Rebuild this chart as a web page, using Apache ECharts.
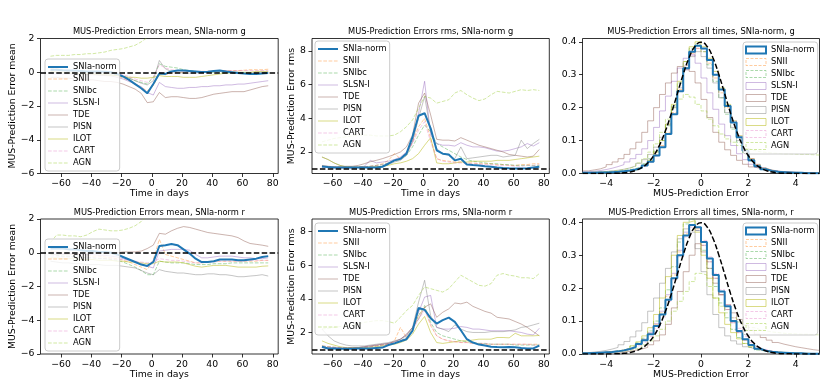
<!DOCTYPE html>
<html>
<head>
<meta charset="utf-8">
<title>MUS prediction errors</title>
<script src="https://cdn.jsdelivr.net/npm/echarts@6/dist/echarts.min.js"></script>
<style>html,body{margin:0;padding:0;background:#fff;}</style>
</head>
<body>
<div id="main" style="width:830px;height:391px;"></div>
<script>
// classes in legend order
var classes = ['SNIa-norm', 'SNII', 'SNIbc', 'SLSN-I', 'TDE', 'PISN', 'ILOT', 'CART', 'AGN'];

// time grid (days) shared by the four time panels
var days = [-67,-63,-59,-55,-51,-47,-43,-39,-35,-31,-27,-23,-19,-15,-11,-7,-3,1,5,9,13,17,21,25,29,33,37,41,45,49,53,57,61,65,69,73,77];

// mean error, g band
var gMeanSNIa  = [0.15,0.15,0.12,0.1,0.1,0.08,0.05,0.05,0.05,0.03,0.0,-0.1,-0.25,-0.45,-0.7,-0.95,-1.25,-0.7,-0.07,-0.1,0.05,0.1,0.1,0.08,0.05,0.02,0.03,0.08,0.1,0.05,0.0,-0.05,-0.08,-0.1,-0.1,-0.08,-0.05];
var gMeanSNII  = [0.2,0.2,0.15,0.1,0.1,0.05,0.05,0.0,0.0,-0.05,-0.1,-0.2,-0.35,-0.5,-0.7,-0.9,-1.1,-0.8,-0.1,-0.15,-0.05,0.0,0.0,0.05,0.05,0.05,0.05,0.1,0.1,0.1,0.1,0.1,0.12,0.15,0.15,0.15,0.18];
var gMeanSNIbc = [0.1,0.1,0.1,0.05,0.05,0.05,0.0,0.0,-0.05,-0.05,-0.1,-0.15,-0.25,-0.35,-0.5,-0.6,-0.7,-0.3,0.5,0.35,0.3,0.25,0.15,0.1,0.05,0.0,0.0,0.0,0.0,-0.05,-0.05,-0.05,-0.05,-0.05,-0.05,-0.05,-0.05];
var gMeanSLSN  = [-0.1,-0.1,-0.1,-0.1,-0.12,-0.12,-0.15,-0.15,-0.18,-0.2,-0.22,-0.3,-0.4,-0.55,-0.7,-0.85,-1.2,-1.35,-0.6,-0.85,-0.9,-0.95,-0.95,-0.9,-0.9,-0.85,-0.85,-0.8,-0.8,-0.75,-0.75,-0.7,-0.7,-0.65,-0.6,-0.55,-0.5];
var gMeanTDE   = [-0.3,-0.3,-0.35,-0.35,-0.4,-0.4,-0.45,-0.45,-0.5,-0.55,-0.55,-0.6,-0.7,-0.85,-1.0,-1.25,-1.8,-1.75,-1.2,-1.5,-1.45,-1.45,-1.5,-1.55,-1.55,-1.5,-1.4,-1.3,-1.25,-1.2,-1.15,-1.15,-1.15,-1.05,-0.95,-0.85,-0.8];
var gMeanPISN  = [0.0,0.0,-0.05,-0.05,-0.05,-0.1,-0.1,-0.1,-0.1,-0.15,-0.15,-0.2,-0.25,-0.35,-0.5,-0.65,-0.75,-0.5,0.7,0.2,0.05,0.0,-0.05,-0.05,-0.05,0.0,0.0,0.05,0.05,0.0,0.0,0.0,-0.05,-0.05,0.0,0.0,0.0];
var gMeanILOT  = [0.05,0.0,0.0,-0.05,-0.05,-0.1,-0.1,-0.1,-0.15,-0.15,-0.2,-0.2,-0.25,-0.3,-0.3,-0.35,-0.35,-0.3,-0.2,-0.25,-0.25,-0.25,-0.3,-0.3,-0.3,-0.25,-0.2,-0.15,-0.1,-0.05,0.0,0.0,0.0,0.0,0.05,0.05,0.05];
var gMeanCART  = [0.1,0.1,0.1,0.05,0.05,0.05,0.05,0.0,0.0,0.0,-0.05,-0.1,-0.15,-0.25,-0.4,-0.5,-0.6,-0.3,0.45,0.25,0.15,0.1,0.05,0.05,0.05,0.05,0.05,0.05,0.1,0.1,0.1,0.1,0.1,0.1,0.1,0.1,0.1];
var gMeanAGN   = [0.95,1.0,1.0,1.0,1.05,1.05,1.1,1.1,1.15,1.2,1.3,1.35,1.4,1.5,1.6,1.8,2.05,2.4,2.6,2.7,2.8,2.9,3.0,3.0,3.0,3.0,3.0,3.0,3.0,3.0,3.0,3.0,3.0,3.0,3.0,3.0,3.0];

// rms error, g band
var gRmsSNIa  = [1.13,1.1,1.08,1.07,1.07,1.07,1.07,1.07,1.08,1.08,1.12,1.3,1.5,1.6,1.9,2.9,4.15,4.3,3.4,2.1,1.9,1.85,1.5,1.6,1.25,1.22,1.2,1.15,1.12,1.08,1.05,1.03,1.02,1.02,1.03,1.08,1.12];
var gRmsSNII  = [1.15,1.12,1.1,1.1,1.1,1.1,1.1,1.12,1.15,1.2,1.3,1.5,1.9,1.6,1.9,2.6,3.5,4.0,2.8,1.6,1.5,1.45,1.4,1.4,1.35,1.35,1.3,1.3,1.3,1.25,1.25,1.2,1.2,1.25,1.25,1.3,1.3];
var gRmsSNIbc = [1.15,1.12,1.1,1.1,1.1,1.1,1.1,1.12,1.15,1.2,1.25,1.35,1.45,1.55,1.8,2.3,3.0,3.6,3.2,2.5,2.3,2.1,1.9,1.7,1.55,1.45,1.4,1.35,1.3,1.3,1.25,1.25,1.2,1.2,1.2,1.2,1.2];
var gRmsSLSN  = [1.1,1.08,1.05,1.05,1.05,1.05,1.08,1.15,1.5,1.35,1.4,1.45,1.55,1.7,2.0,2.6,4.3,6.2,3.0,2.5,2.4,2.4,2.35,2.55,2.4,2.3,2.3,2.25,2.15,2.05,2.05,2.1,2.2,2.3,2.5,2.35,2.55];
var gRmsTDE   = [1.2,1.15,1.12,1.12,1.15,1.15,1.2,1.3,1.42,1.5,1.6,1.72,1.85,2.0,2.3,3.0,4.9,5.5,4.2,2.75,2.7,2.7,2.65,2.85,2.7,2.55,2.4,2.3,2.2,2.1,2.0,1.85,1.8,1.75,1.7,1.75,2.15];
var gRmsPISN  = [1.7,1.55,1.35,1.2,1.12,1.1,1.1,1.1,1.1,1.12,1.15,1.25,1.4,1.5,1.8,2.6,4.0,5.3,3.2,2.2,1.9,1.8,1.6,2.3,1.6,1.65,1.7,1.75,1.8,1.8,1.7,1.75,1.8,2.7,2.2,2.5,2.75];
var gRmsILOT  = [1.7,1.55,1.35,1.2,1.12,1.1,1.1,1.1,1.1,1.12,1.15,1.2,1.3,1.35,1.45,1.6,1.9,2.4,2.85,1.35,1.3,1.3,1.35,1.4,1.4,1.45,1.45,1.45,1.45,1.5,1.5,1.5,1.55,1.6,1.65,1.7,1.75];
var gRmsCART  = [1.15,1.12,1.1,1.1,1.1,1.1,1.1,1.12,1.15,1.2,1.25,1.35,1.5,1.6,1.9,2.5,3.3,3.8,2.6,1.6,1.45,1.4,1.35,1.35,1.3,1.3,1.3,1.25,1.25,1.2,1.2,1.2,1.15,1.15,1.2,1.2,1.25];
var gRmsAGN   = [2.6,2.7,2.8,2.85,2.9,2.95,3.0,3.0,3.0,2.95,2.95,2.95,3.0,3.2,3.5,3.9,4.6,5.3,5.2,4.9,5.0,5.1,5.5,5.65,5.4,5.2,5.05,5.15,5.4,5.6,5.55,5.5,5.6,5.7,5.65,5.7,5.65];

// mean error, r band
var rMeanSNIa  = [0.25,0.25,0.25,0.2,0.2,0.15,0.1,0.1,0.05,0.05,0.0,-0.1,-0.25,-0.4,-0.55,-0.7,-0.78,-0.55,0.4,0.45,0.52,0.45,0.2,-0.05,-0.35,-0.55,-0.55,-0.5,-0.4,-0.4,-0.4,-0.45,-0.45,-0.4,-0.35,-0.25,-0.2];
var rMeanSNII  = [0.1,0.05,0.0,-0.05,-0.1,-0.1,-0.15,-0.2,-0.2,-0.25,-0.3,-0.35,-0.45,-0.55,-0.7,-0.85,-1.0,-0.4,0.8,-0.1,-0.2,-0.3,-0.4,-0.5,-0.6,-0.6,-0.55,-0.5,-0.5,-0.5,-0.5,-0.5,-0.5,-0.5,-0.5,-0.45,-0.45];
var rMeanSNIbc = [-0.1,-0.15,-0.2,-0.2,-0.25,-0.25,-0.3,-0.3,-0.35,-0.35,-0.4,-0.45,-0.55,-0.7,-0.85,-1.05,-1.3,-1.3,-0.5,-0.55,-0.6,-0.6,-0.6,-0.65,-0.7,-0.7,-0.7,-0.65,-0.65,-0.65,-0.6,-0.6,-0.6,-0.6,-0.6,-0.6,-0.6];
var rMeanSLSN  = [0.0,0.0,-0.05,-0.05,-0.05,-0.1,-0.1,-0.1,-0.15,-0.15,-0.2,-0.25,-0.35,-0.45,-0.55,-0.65,-0.8,-0.9,0.1,0.15,0.2,0.2,0.2,0.15,-0.1,-0.3,-0.3,-0.25,-0.2,-0.2,-0.2,-0.25,-0.3,-0.3,-0.35,-0.35,-0.3];
var rMeanTDE   = [-0.1,-0.1,-0.1,-0.1,-0.05,-0.05,-0.05,0.0,0.0,0.0,0.0,0.0,0.05,0.05,0.05,0.1,0.25,0.45,1.15,1.1,1.3,1.45,1.55,1.5,1.4,1.3,1.2,1.15,1.1,1.05,1.0,0.9,0.7,0.55,0.5,0.45,0.38];
var rMeanPISN  = [-0.5,-0.55,-0.6,-0.6,-0.65,-0.65,-0.7,-0.7,-0.7,-0.75,-0.75,-0.75,-0.8,-0.85,-0.9,-1.05,-1.2,-1.3,-1.0,-1.1,-1.15,-1.2,-1.2,-1.25,-1.3,-1.3,-1.25,-1.25,-1.3,-1.3,-1.35,-1.42,-1.42,-1.38,-1.35,-1.3,-1.38];
var rMeanILOT  = [-0.3,-0.3,-0.35,-0.35,-0.35,-0.4,-0.4,-0.4,-0.45,-0.45,-0.45,-0.5,-0.5,-0.55,-0.55,-0.6,-0.65,-0.65,-0.5,-0.55,-0.55,-0.55,-0.6,-0.7,-0.8,-0.85,-0.8,-0.75,-0.75,-0.75,-0.8,-0.85,-0.85,-0.85,-0.85,-0.8,-0.78];
var rMeanCART  = [-0.2,-0.2,-0.25,-0.25,-0.25,-0.3,-0.3,-0.3,-0.3,-0.35,-0.35,-0.4,-0.4,-0.45,-0.5,-0.55,-0.6,-0.55,-0.35,-0.4,-0.45,-0.45,-0.5,-0.55,-0.6,-0.6,-0.55,-0.55,-0.5,-0.5,-0.5,-0.5,-0.5,-0.45,-0.45,-0.45,-0.45];
var rMeanAGN   = [0.6,1.05,1.05,1.0,1.0,0.95,1.05,1.25,1.4,1.35,1.3,1.3,1.35,1.45,1.6,1.85,2.2,2.6,2.8,2.9,3.0,3.0,3.0,3.0,3.0,3.0,3.0,3.0,3.0,3.0,3.0,3.0,3.0,3.0,3.0,3.0,3.0];

// rms error, r band
var rRmsSNIa  = [1.15,1.05,1.05,1.03,1.03,1.03,1.05,1.05,1.05,1.08,1.1,1.25,1.35,1.48,1.6,2.1,3.45,3.35,2.85,2.53,2.73,2.88,2.63,2.13,1.6,1.4,1.28,1.22,1.15,1.13,1.12,1.13,1.12,1.08,1.05,1.05,1.22];
var rRmsSNII  = [1.2,1.15,1.12,1.1,1.1,1.1,1.1,1.12,1.15,1.2,1.25,1.3,1.5,2.3,1.7,2.2,3.0,3.5,2.4,1.8,1.6,1.5,1.45,1.4,1.4,1.35,1.35,1.3,1.3,1.3,1.3,1.3,1.3,1.3,1.3,1.3,1.3];
var rRmsSNIbc = [1.2,1.15,1.12,1.1,1.1,1.1,1.1,1.12,1.15,1.2,1.25,1.3,1.4,1.5,1.7,2.2,3.0,3.6,2.6,2.0,1.8,1.7,1.6,1.5,1.45,1.4,1.35,1.35,1.3,1.3,1.3,1.3,1.25,1.25,1.25,1.25,1.25];
var rRmsSLSN  = [1.15,1.1,1.1,1.08,1.08,1.1,1.1,1.15,1.2,1.25,1.3,1.35,1.45,1.6,1.85,2.3,3.2,4.1,4.2,2.3,2.2,2.2,2.25,2.35,2.3,2.2,2.2,2.15,2.1,2.1,2.1,2.1,2.05,2.0,1.9,1.85,2.25];
var rRmsTDE   = [1.1,1.05,1.05,1.05,1.05,1.08,1.1,1.15,1.2,1.25,1.3,1.35,1.45,1.6,1.9,2.3,2.8,3.5,3.7,2.9,3.2,3.4,3.75,3.7,3.8,3.55,3.4,3.25,3.15,2.9,2.85,2.8,2.65,2.5,2.3,2.05,1.8];
var rRmsPISN  = [2.2,1.8,1.5,1.35,1.25,1.2,1.2,1.2,1.25,1.3,1.35,1.4,1.5,1.6,1.8,2.3,3.8,5.1,3.0,2.3,2.2,2.05,2.45,2.2,2.05,2.0,2.0,2.0,2.05,2.05,2.05,2.1,2.15,2.3,2.35,2.45,2.55];
var rRmsILOT  = [1.5,1.35,1.25,1.15,1.1,1.1,1.1,1.1,1.12,1.15,1.2,1.25,1.3,1.4,1.55,1.9,2.5,2.95,2.0,1.4,1.35,1.4,1.45,1.5,1.5,1.55,1.6,1.6,1.6,1.7,1.7,1.68,1.95,1.8,1.8,1.8,1.82];
var rRmsCART  = [1.2,1.15,1.12,1.1,1.1,1.1,1.1,1.12,1.15,1.2,1.25,1.3,1.4,1.5,1.7,2.1,2.8,3.3,2.5,1.8,1.6,1.5,1.45,1.4,1.4,1.35,1.35,1.35,1.3,1.3,1.3,1.3,1.3,1.3,1.3,1.25,1.25];
var rRmsAGN   = [2.2,2.25,2.3,2.35,2.4,2.45,2.5,2.6,2.65,2.7,2.7,2.65,2.55,2.9,3.3,3.6,4.2,4.7,4.6,4.5,4.4,4.6,5.0,5.4,5.2,5.0,4.8,4.75,4.9,5.4,5.5,5.4,5.35,5.25,5.25,5.2,5.5];

// normalised histograms of the error, 40 bins of 0.25 from -5 to 5
var binStart = -5, binWidth = 0.25;
var hgSNIa  = [0.002,0.002,0.003,0.003,0.004,0.005,0.007,0.009,0.012,0.017,0.024,0.036,0.055,0.08,0.12,0.18,0.25,0.32,0.37,0.388,0.38,0.345,0.30,0.255,0.205,0.155,0.11,0.07,0.04,0.022,0.013,0.008,0.005,0.004,0.003,0.002,0.002,0.001,0.001,0.001];
var hgSNII  = [0.002,0.002,0.003,0.003,0.004,0.005,0.007,0.01,0.013,0.018,0.026,0.038,0.058,0.085,0.125,0.185,0.255,0.32,0.365,0.38,0.37,0.335,0.29,0.245,0.2,0.155,0.11,0.072,0.044,0.026,0.016,0.01,0.006,0.004,0.003,0.002,0.002,0.001,0.001,0.001];
var hgSNIbc = [0.002,0.003,0.003,0.004,0.005,0.006,0.008,0.011,0.015,0.021,0.03,0.045,0.068,0.1,0.145,0.205,0.275,0.34,0.38,0.39,0.37,0.33,0.28,0.23,0.18,0.135,0.095,0.062,0.038,0.022,0.013,0.008,0.005,0.004,0.003,0.002,0.002,0.001,0.001,0.001];
var hgSLSN  = [0.005,0.007,0.009,0.012,0.016,0.021,0.027,0.035,0.045,0.058,0.075,0.1,0.14,0.19,0.235,0.28,0.32,0.35,0.36,0.335,0.29,0.245,0.195,0.15,0.115,0.085,0.06,0.042,0.028,0.019,0.013,0.009,0.007,0.005,0.004,0.003,0.002,0.002,0.001,0.001];
var hgTDE   = [0.008,0.011,0.014,0.02,0.027,0.035,0.045,0.058,0.075,0.095,0.125,0.16,0.2,0.24,0.275,0.305,0.325,0.33,0.31,0.275,0.225,0.17,0.125,0.095,0.072,0.055,0.04,0.028,0.02,0.015,0.012,0.009,0.007,0.006,0.005,0.004,0.003,0.003,0.002,0.002];
var hgPISN  = [0.003,0.004,0.005,0.006,0.008,0.01,0.013,0.017,0.023,0.031,0.042,0.058,0.08,0.11,0.15,0.2,0.26,0.315,0.355,0.37,0.355,0.32,0.275,0.23,0.185,0.14,0.1,0.068,0.044,0.028,0.018,0.011,0.007,0.005,0.003,0.002,0.002,0.001,0.001,0.001];
var hgILOT  = [0.001,0.001,0.002,0.002,0.003,0.004,0.005,0.007,0.01,0.016,0.025,0.04,0.065,0.1,0.15,0.21,0.28,0.34,0.385,0.4,0.385,0.35,0.31,0.26,0.21,0.16,0.115,0.075,0.045,0.026,0.015,0.009,0.005,0.003,0.002,0.002,0.001,0.001,0.001,0.001];
var hgCART  = [0.002,0.002,0.003,0.003,0.004,0.005,0.006,0.008,0.011,0.016,0.023,0.035,0.053,0.08,0.12,0.18,0.25,0.315,0.36,0.38,0.375,0.345,0.3,0.255,0.205,0.16,0.115,0.075,0.045,0.027,0.016,0.01,0.006,0.004,0.003,0.002,0.002,0.001,0.001,0.001];
var hgAGN   = [0.003,0.004,0.005,0.006,0.007,0.009,0.012,0.016,0.022,0.032,0.045,0.065,0.09,0.125,0.165,0.2,0.226,0.24,0.232,0.21,0.19,0.165,0.145,0.12,0.105,0.095,0.085,0.076,0.07,0.066,0.064,0.062,0.061,0.06,0.06,0.059,0.058,0.058,0.057,0.056];

var hrSNIa  = [0.002,0.003,0.004,0.005,0.006,0.008,0.011,0.015,0.021,0.03,0.042,0.06,0.085,0.12,0.165,0.23,0.3,0.36,0.392,0.385,0.34,0.29,0.24,0.19,0.145,0.1,0.07,0.045,0.027,0.016,0.01,0.007,0.005,0.004,0.003,0.002,0.002,0.001,0.001,0.001];
var hrSNII  = [0.002,0.003,0.004,0.005,0.006,0.008,0.011,0.015,0.021,0.03,0.043,0.062,0.09,0.125,0.175,0.24,0.31,0.365,0.39,0.38,0.33,0.28,0.23,0.18,0.135,0.095,0.065,0.042,0.026,0.016,0.01,0.007,0.005,0.004,0.003,0.002,0.002,0.001,0.001,0.001];
var hrSNIbc = [0.002,0.003,0.004,0.005,0.007,0.009,0.012,0.017,0.024,0.034,0.048,0.07,0.1,0.14,0.195,0.265,0.34,0.395,0.41,0.375,0.315,0.26,0.205,0.155,0.11,0.075,0.05,0.032,0.02,0.012,0.008,0.005,0.004,0.003,0.002,0.002,0.001,0.001,0.001,0.001];
var hrSLSN  = [0.002,0.003,0.004,0.005,0.007,0.009,0.012,0.016,0.022,0.031,0.045,0.065,0.092,0.13,0.18,0.245,0.315,0.37,0.39,0.375,0.33,0.28,0.23,0.18,0.135,0.095,0.065,0.043,0.027,0.017,0.011,0.007,0.005,0.004,0.003,0.002,0.002,0.001,0.001,0.001];
var hrTDE   = [0.002,0.002,0.003,0.003,0.004,0.005,0.006,0.008,0.011,0.015,0.02,0.028,0.04,0.058,0.09,0.14,0.19,0.25,0.3,0.335,0.31,0.26,0.215,0.18,0.15,0.125,0.105,0.088,0.072,0.06,0.05,0.042,0.035,0.03,0.026,0.022,0.019,0.016,0.013,0.011];
var hrPISN  = [0.004,0.006,0.008,0.011,0.015,0.02,0.028,0.038,0.052,0.07,0.095,0.13,0.17,0.215,0.26,0.31,0.35,0.38,0.37,0.32,0.25,0.18,0.12,0.08,0.055,0.04,0.03,0.022,0.016,0.012,0.009,0.007,0.005,0.004,0.003,0.003,0.002,0.002,0.001,0.001];
var hrILOT  = [0.002,0.003,0.004,0.005,0.007,0.009,0.012,0.017,0.025,0.037,0.055,0.08,0.12,0.17,0.235,0.3,0.36,0.4,0.405,0.37,0.3,0.23,0.17,0.125,0.09,0.065,0.046,0.032,0.022,0.015,0.011,0.008,0.006,0.005,0.004,0.003,0.002,0.002,0.001,0.001];
var hrCART  = [0.002,0.002,0.003,0.004,0.005,0.007,0.009,0.012,0.017,0.025,0.036,0.053,0.078,0.112,0.16,0.225,0.295,0.355,0.385,0.38,0.345,0.295,0.245,0.195,0.15,0.11,0.078,0.053,0.035,0.022,0.014,0.009,0.006,0.004,0.003,0.002,0.002,0.001,0.001,0.001];
var hrAGN   = [0.002,0.002,0.003,0.004,0.005,0.006,0.008,0.011,0.015,0.02,0.028,0.04,0.055,0.075,0.1,0.13,0.16,0.19,0.22,0.245,0.24,0.205,0.17,0.145,0.125,0.11,0.097,0.087,0.08,0.074,0.07,0.067,0.065,0.063,0.062,0.061,0.06,0.06,0.059,0.058];

// unit normal reference curve, sampled every 0.25 from -5 to 5
var normalCurve = [0,0,0,0,0.0001,0.0004,0.0009,0.002,0.0044,0.0091,0.0175,0.0317,0.054,0.0863,0.1295,0.1826,0.242,0.3011,0.3521,0.3867,0.3989,0.3867,0.3521,0.3011,0.242,0.1826,0.1295,0.0863,0.054,0.0317,0.0175,0.0091,0.0044,0.002,0.0009,0.0004,0.0001,0,0,0,0];

// tick labels
var timeTicks = [-60, -40, -20, 0, 20, 40, 60, 80];
var meanTicks = [-6, -4, -2, 0, 2];
var rmsTicks = [2, 4, 6, 8];
var errTicks = [-4, -2, 0, 2, 4];
var densTicks = [0, 0.1, 0.2, 0.3, 0.4];

var gMean = [gMeanSNIa, gMeanSNII, gMeanSNIbc, gMeanSLSN, gMeanTDE, gMeanPISN, gMeanILOT, gMeanCART, gMeanAGN];
var gRms = [gRmsSNIa, gRmsSNII, gRmsSNIbc, gRmsSLSN, gRmsTDE, gRmsPISN, gRmsILOT, gRmsCART, gRmsAGN];
var rMean = [rMeanSNIa, rMeanSNII, rMeanSNIbc, rMeanSLSN, rMeanTDE, rMeanPISN, rMeanILOT, rMeanCART, rMeanAGN];
var rRms = [rRmsSNIa, rRmsSNII, rRmsSNIbc, rRmsSLSN, rRmsTDE, rRmsPISN, rRmsILOT, rRmsCART, rRmsAGN];
var hG = [hgSNIa, hgSNII, hgSNIbc, hgSLSN, hgTDE, hgPISN, hgILOT, hgCART, hgAGN];
var hR = [hrSNIa, hrSNII, hrSNIbc, hrSLSN, hrTDE, hrPISN, hrILOT, hrCART, hrAGN];

// look of each class
var looks = {
    'SNIa-norm': {color: '#1f77b4', dash: false, alpha: 1, width: 2},
    'SNII':      {color: '#ff7f0e', dash: true, alpha: 0.4, width: 1},
    'SNIbc':     {color: '#2ca02c', dash: true, alpha: 0.4, width: 1},
    'SLSN-I':    {color: '#9467bd', dash: false, alpha: 0.45, width: 1},
    'TDE':       {color: '#8c564b', dash: false, alpha: 0.45, width: 1},
    'PISN':      {color: '#7f7f7f', dash: false, alpha: 0.45, width: 1},
    'ILOT':      {color: '#bcbd22', dash: false, alpha: 0.55, width: 1},
    'CART':      {color: '#e377c2', dash: true, alpha: 0.4, width: 1},
    'AGN':       {color: '#9acd32', dash: true, alpha: 0.45, width: 1}
};

var font = 'DejaVu Sans';
var top1 = 38.5, top2 = 219, ph = 135;
var lefts = [40.5, 312, 582.5], widths = [237.7, 237.3, 237];

var panels = [
    {title: 'MUS-Prediction Errors mean, SNIa-norm g', kind: 'line', rows: gMean, yName: 'MUS-Prediction Error mean',
     yMin: -6, yMax: 2, yTicks: meanTicks, ref: 0, col: 0, top: top1, nameGap: 22, leg: [45, 59]},
    {title: 'MUS-Prediction Errors rms, SNIa-norm g', kind: 'line', rows: gRms, yName: 'MUS-Prediction Error rms',
     yMin: 0.72, yMax: 8.74, yTicks: rmsTicks, ref: 1, col: 1, top: top1, nameGap: 13.5, leg: [315, 41]},
    {title: 'MUS-Prediction Errors all times, SNIa-norm, g', kind: 'hist', rows: hG,
     yMin: 0, yMax: 0.41, yTicks: densTicks, col: 2, top: top1, leg: [743, 42]},
    {title: 'MUS-Prediction Errors mean, SNIa-norm r', kind: 'line', rows: rMean, yName: 'MUS-Prediction Error mean',
     yMin: -6, yMax: 2, yTicks: meanTicks, ref: 0, col: 0, top: top2, nameGap: 22, leg: [45, 239]},
    {title: 'MUS-Prediction Errors rms, SNIa-norm r', kind: 'line', rows: rRms, yName: 'MUS-Prediction Error rms',
     yMin: 0.72, yMax: 8.74, yTicks: rmsTicks, ref: 1, col: 1, top: top2, nameGap: 13.5, leg: [315, 223]},
    {title: 'MUS-Prediction Errors all times, SNIa-norm, r', kind: 'hist', rows: hR,
     yMin: 0, yMax: 0.41, yTicks: densTicks, col: 2, top: top2, leg: [743, 223]}
];

function minusSign(v) { return String(v).replace('-', '\u2212'); }
function dashOf(lk) { return lk.dash ? [3.7, 1.6] : 'solid'; }

var grids = [], xAxes = [], yAxes = [], lineSeries = [], histSeries = [], legends = [], titles = [];

panels.forEach(function (p, i) {
    var isLine = p.kind === 'line';
    var left = lefts[p.col], w = widths[p.col];
    grids.push({left: left, top: p.top, width: w, height: ph, show: true,
        borderColor: '#000', borderWidth: 0.8, backgroundColor: 'rgba(0,0,0,0)'});
    var xt = isLine ? timeTicks : errTicks;
    xAxes.push({
        type: 'value', gridIndex: i, position: 'bottom', min: isLine ? -73.6 : -5, max: isLine ? 83.6 : 5,
        name: isLine ? 'Time in days' : 'MUS-Prediction Error', nameLocation: 'middle', nameGap: 16,
        nameTextStyle: {fontSize: 9.3, color: '#000', fontFamily: font},
        axisLine: {show: false, onZero: false}, splitLine: {show: false},
        axisTick: {show: true, inside: false, length: 3.5, customValues: xt, lineStyle: {color: '#000', width: 0.8}},
        axisLabel: {show: true, customValues: xt, formatter: minusSign, margin: 6, fontSize: 9.3, color: '#000', fontFamily: font}
    });
    yAxes.push({
        type: 'value', gridIndex: i, position: 'left', min: p.yMin, max: p.yMax,
        name: isLine ? p.yName : '', nameLocation: 'middle', nameGap: p.nameGap || 20,
        nameTextStyle: {fontSize: 9.3, color: '#000', fontFamily: font},
        axisLine: {show: false, onZero: false}, splitLine: {show: false},
        axisTick: {show: true, inside: false, length: 3.5, customValues: p.yTicks, lineStyle: {color: '#000', width: 0.8}},
        axisLabel: {show: true, customValues: p.yTicks, margin: 6, fontSize: 9.3, color: '#000', fontFamily: font,
            formatter: isLine ? minusSign : function (v) { return v.toFixed(1); }}
    });
    titles.push({type: 'text', silent: true, x: left + w / 2, y: p.top - 6.2,
        style: {text: p.title, fill: '#000', font: '8.3px "DejaVu Sans"',
            textAlign: 'center', align: 'center', textVerticalAlign: 'middle', verticalAlign: 'middle'}});

    classes.forEach(function (c, k) {
        var lk = looks[c];
        var row = p.rows[k];
        var s = {
            type: 'line', name: c, xAxisIndex: i, yAxisIndex: i, symbol: 'none', silent: true,
            z: k === 0 ? 3 : 2,
            lineStyle: {color: lk.color, width: lk.width, type: dashOf(lk), opacity: lk.alpha},
            itemStyle: {color: lk.color}
        };
        if (isLine) {
            s.data = days.map(function (d, j) { return [d, row[j]]; });
            if (k === 0) {
                s.markLine = {silent: true, symbol: ['none', 'none'], label: {show: false},
                    lineStyle: {color: '#000', type: [5.5, 2.4], width: 1.5, opacity: 1},
                    emphasis: {disabled: true}, data: [{yAxis: p.ref}]};
            }
            lineSeries.push(s);
        } else {
            var pts = row.map(function (v, j) { return [binStart + j * binWidth, v]; });
            pts.push([binStart + row.length * binWidth, row[row.length - 1]]);
            s.data = pts;
            s.step = 'end';
            histSeries.push(s);
        }
    });
    if (!isLine) {
        histSeries.push({
            type: 'line', name: 'normal', xAxisIndex: i, yAxisIndex: i, symbol: 'none', silent: true, z: 4,
            smooth: true,
            data: normalCurve.map(function (v, j) { return [binStart + j * binWidth, v]; }),
            lineStyle: {color: '#000', type: [5.5, 2.4], width: 1.5}
        });
    }

    legends.push({
        orient: 'vertical', left: p.leg[0], top: p.leg[1], padding: [3, 3, 3, 2],
        itemWidth: 20, itemHeight: 7, itemGap: 2, selectedMode: false,
        backgroundColor: 'rgba(255,255,255,0.8)', borderColor: '#ccc', borderWidth: 1, borderRadius: 3,
        textStyle: {fontSize: 8.3, fontFamily: font, color: '#000', lineHeight: 10},
        itemStyle: {opacity: 0},
        data: classes.map(function (c) {
            var lk = looks[c];
            if (isLine) {
                return {name: c, lineStyle: {color: lk.color, width: lk.width, type: dashOf(lk), opacity: lk.alpha}};
            }
            return {name: c, icon: 'rect', itemStyle: {color: 'rgba(0,0,0,0)', borderColor: lk.color,
                borderWidth: lk.width, borderType: lk.dash ? [3, 1.5] : 'solid', opacity: lk.alpha}};
        })
    });
});

var chart = echarts.init(document.getElementById('main'));
chart.setOption({
    animation: false,
    backgroundColor: '#fff',
    grid: grids,
    xAxis: xAxes,
    yAxis: yAxes,
    legend: legends,
    graphic: titles,
    series: lineSeries.concat(histSeries)
});
</script>
</body>
</html>
